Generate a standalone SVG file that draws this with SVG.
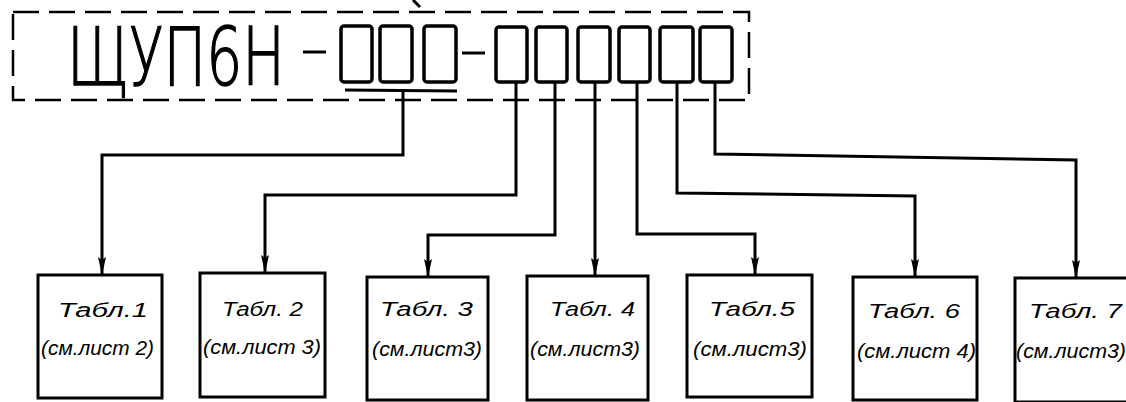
<svg xmlns="http://www.w3.org/2000/svg" width="1126" height="402" viewBox="0 0 1126 402">
<defs>
<marker id="arr" markerUnits="userSpaceOnUse" markerWidth="18" markerHeight="8" refX="18" refY="4" orient="auto" viewBox="0 0 18 8">
<path d="M0,0 L18,4 L0,8 L3,4 Z" fill="#000"/>
</marker>
</defs>
<style>
.dash{fill:none;stroke:#000;stroke-width:2.5;stroke-dasharray:26 10}
.cell{fill:none;stroke:#000;stroke-width:3.5}
.ln{fill:none;stroke:#000;stroke-width:3;stroke-linejoin:miter}
.con{fill:none;stroke:#000;stroke-width:3;marker-end:url(#arr)}
.box{fill:none;stroke:#000;stroke-width:3}
.big{font-family:"DejaVu Sans",sans-serif;font-weight:200;font-size:80px;fill:#000;stroke:#000;stroke-width:1.5}
.t1{font-family:"Liberation Sans",sans-serif;font-style:italic;font-size:20px;fill:#000}
.t2{font-family:"Liberation Sans",sans-serif;font-style:italic;font-size:20px;fill:#000}
</style>
<rect width="1126" height="402" fill="#fff"/>
<g id="header">
<rect class="dash" x="13" y="12" width="736" height="88"/>
<line class="ln" x1="413" y1="0" x2="420" y2="7" stroke-width="2"/>
<text class="big" x="67" y="85" textLength="218" lengthAdjust="spacingAndGlyphs">ЩУП6Н</text>
<line class="ln" x1="303" y1="52" x2="326" y2="52" stroke-width="4.5"/>
<line class="ln" x1="462" y1="53" x2="485" y2="53" stroke-width="4.5"/>
<rect class="cell" x="341" y="26" width="31" height="56" rx="3"/>
<rect class="cell" x="380" y="26" width="32" height="56" rx="3"/>
<rect class="cell" x="424" y="26" width="32" height="56" rx="3"/>
<rect class="cell" x="496" y="27" width="31" height="55" rx="3"/>
<rect class="cell" x="536" y="27" width="31" height="55" rx="3"/>
<rect class="cell" x="578" y="27" width="32" height="55" rx="3"/>
<rect class="cell" x="619" y="27" width="31" height="55" rx="3"/>
<rect class="cell" x="660" y="27" width="33" height="55" rx="3"/>
<rect class="cell" x="700" y="27" width="32" height="55" rx="3"/>
<line class="ln" x1="345" y1="90" x2="457" y2="91" stroke-width="2.5"/>
</g>
<g id="n1">
<rect class="box" x="38" y="275" width="124" height="123"/>
<text class="t1" x="58" y="317" textLength="90" lengthAdjust="spacingAndGlyphs">Табл.1</text>
<text class="t2" x="41" y="355" textLength="113" lengthAdjust="spacingAndGlyphs">(см.лист 2)</text>
</g>
<g id="n2">
<rect class="box" x="200" y="273" width="125" height="124"/>
<text class="t1" x="222" y="316" textLength="81" lengthAdjust="spacingAndGlyphs">Табл. 2</text>
<text class="t2" x="203" y="354" textLength="118" lengthAdjust="spacingAndGlyphs">(см.лист 3)</text>
</g>
<g id="n3">
<rect class="box" x="367" y="277" width="121" height="123"/>
<text class="t1" x="380" y="316" textLength="93" lengthAdjust="spacingAndGlyphs">Табл. 3</text>
<text class="t2" x="372" y="356" textLength="110" lengthAdjust="spacingAndGlyphs">(см.лист3)</text>
</g>
<g id="n4">
<rect class="box" x="527" y="276" width="121" height="124"/>
<text class="t1" x="550" y="316" textLength="85" lengthAdjust="spacingAndGlyphs">Табл. 4</text>
<text class="t2" x="530" y="356" textLength="110" lengthAdjust="spacingAndGlyphs">(см.лист3)</text>
</g>
<g id="n5">
<rect class="box" x="687" y="275" width="125" height="122"/>
<text class="t1" x="709" y="316" textLength="86" lengthAdjust="spacingAndGlyphs">Табл.5</text>
<text class="t2" x="693" y="356" textLength="114" lengthAdjust="spacingAndGlyphs">(см.лист3)</text>
</g>
<g id="n6">
<rect class="box" x="853" y="277" width="124" height="123"/>
<text class="t1" x="868" y="318" textLength="92" lengthAdjust="spacingAndGlyphs">Табл. 6</text>
<text class="t2" x="857" y="358" textLength="119" lengthAdjust="spacingAndGlyphs">(см.лист 4)</text>
</g>
<g id="n7">
<rect class="box" x="1015" y="278" width="130" height="124"/>
<text class="t1" x="1029" y="318" textLength="93" lengthAdjust="spacingAndGlyphs">Табл. 7</text>
<text class="t2" x="1016" y="358" textLength="110" lengthAdjust="spacingAndGlyphs">(см.лист3)</text>
</g>
<g id="connectors">
<path class="con" d="M403,91 V155 H102 V275"/>
<path class="con" d="M516,82 V195 H265 V273"/>
<path class="con" d="M555,82 V235 H428 V277"/>
<path class="con" d="M595,82 V276"/>
<path class="con" d="M637,82 V234 H755 V275"/>
<path class="con" d="M677,82 V193 L915,196 V277"/>
<path class="con" d="M715,82 V154 L1076,160 V278"/>
</g>
</svg>
